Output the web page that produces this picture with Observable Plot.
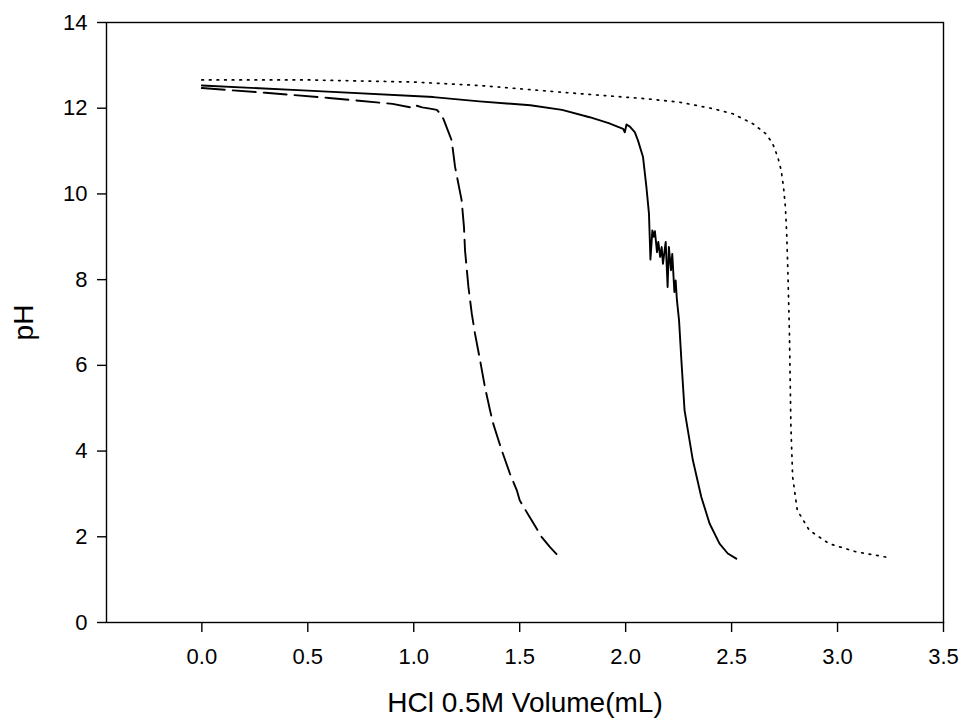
<!DOCTYPE html>
<html><head><meta charset="utf-8">
<script src="https://cdn.jsdelivr.net/npm/d3@7"></script>
<script src="https://cdn.jsdelivr.net/npm/@observablehq/plot@0.6"></script>
<style>
body{margin:0;background:#fff}
#chart svg g[aria-label="x-axis label"] text, #chart svg g[aria-label="y-axis label"] text{font-size:28px}
</style></head><body><div id="chart"></div>
<script>
const xTicks = [0, 0.5, 1, 1.5, 2, 2.5, 3, 3.5];
const yTicks = [0, 2, 4, 6, 8, 10, 12, 14];

// dashed curve
const dashedVolume = [0, 0.3, 0.6, 0.9, 0.983, 0.991, 0.999, 1.04, 1.077, 1.109, 1.124, 1.14, 1.164, 1.179, 1.195, 1.226, 1.237, 1.242, 1.258, 1.274, 1.289, 1.313, 1.336, 1.36, 1.375, 1.415, 1.454, 1.486, 1.50, 1.547, 1.603, 1.643, 1.698];
const dashedPH = [12.47, 12.36, 12.24, 12.10, 12.02, 12.04, 12.08, 12.02, 11.99, 11.96, 11.88, 11.75, 11.44, 11.25, 10.63, 9.85, 9.23, 8.68, 7.83, 7.2, 6.74, 6.12, 5.49, 4.95, 4.64, 4.02, 3.47, 3.09, 2.85, 2.46, 2.0, 1.76, 1.47];

// solid curve
const solidVolume = [0, 0.5, 1.093, 1.31, 1.55, 1.7, 1.83, 1.92, 1.988, 1.996, 2.004, 2.02, 2.043, 2.058, 2.082, 2.098, 2.11, 2.117, 2.126, 2.132, 2.138, 2.148, 2.154, 2.163, 2.17, 2.176, 2.189, 2.198, 2.204, 2.214, 2.22, 2.23, 2.236, 2.242, 2.252, 2.263, 2.278, 2.317, 2.357, 2.396, 2.443, 2.482, 2.522];
const solidPH = [12.53, 12.41, 12.26, 12.16, 12.07, 11.96, 11.79, 11.65, 11.52, 11.44, 11.62, 11.57, 11.44, 11.25, 10.86, 10.16, 9.54, 8.47, 9.15, 9.0, 9.13, 8.64, 8.88, 8.53, 8.76, 8.37, 8.88, 7.83, 8.76, 8.22, 8.6, 7.71, 7.98, 7.52, 7.05, 6.12, 4.95, 3.79, 2.93, 2.31, 1.84, 1.61, 1.49];

// dotted curve
const dottedVolume = [0, 0.5, 1.0, 1.31, 1.78, 2.098, 2.255, 2.412, 2.506, 2.60, 2.663, 2.694, 2.718, 2.734, 2.745, 2.754, 2.76, 2.765, 2.773, 2.78, 2.788, 2.81, 2.867, 2.96, 3.087, 3.236];
const dottedPH = [12.66, 12.66, 12.61, 12.53, 12.34, 12.22, 12.14, 11.99, 11.87, 11.64, 11.40, 11.17, 10.86, 10.55, 10.16, 9.69, 9.07, 8.29, 6.74, 4.56, 3.40, 2.62, 2.15, 1.84, 1.65, 1.52];

const rows = (xs, ys) => xs.map((v, i) => ({volume: v, pH: ys[i]}));

const chart = Plot.plot({
  width: 961, height: 721,
  marginLeft: 106, marginRight: 18, marginTop: 22, marginBottom: 99,
  style: {fontFamily: "'Liberation Sans', Arial, sans-serif", fontSize: "22px", background: "#fff", color: "#000"},
  x: {domain: [-0.45, 3.5]},
  y: {domain: [0, 14]},
  marks: [
    Plot.frame({stroke: "#000", strokeWidth: 1.4}),
    Plot.axisX({ticks: xTicks, tickFormat: d3.format(".1f"), tickSize: 10, tickPadding: 16, strokeWidth: 1.4,
      label: "HCl 0.5M Volume(mL)", labelAnchor: "center", labelOffset: 89, labelArrow: false}),
    Plot.axisY({ticks: yTicks, tickSize: 9, tickPadding: 10, strokeWidth: 1.4,
      label: "pH", labelAnchor: "center", labelOffset: 93, labelArrow: false}),
    Plot.line(rows(dashedVolume, dashedPH), {x: "volume", y: "pH", stroke: "#000", strokeWidth: 1.9, strokeDasharray: "23,8"}),
    Plot.line(rows(solidVolume, solidPH), {x: "volume", y: "pH", stroke: "#000", strokeWidth: 1.9}),
    Plot.line(rows(dottedVolume, dottedPH), {x: "volume", y: "pH", stroke: "#000", strokeWidth: 1.7, strokeDasharray: "1.6,6"})
  ]
});
document.getElementById("chart").appendChild(chart);
</script></body></html>
